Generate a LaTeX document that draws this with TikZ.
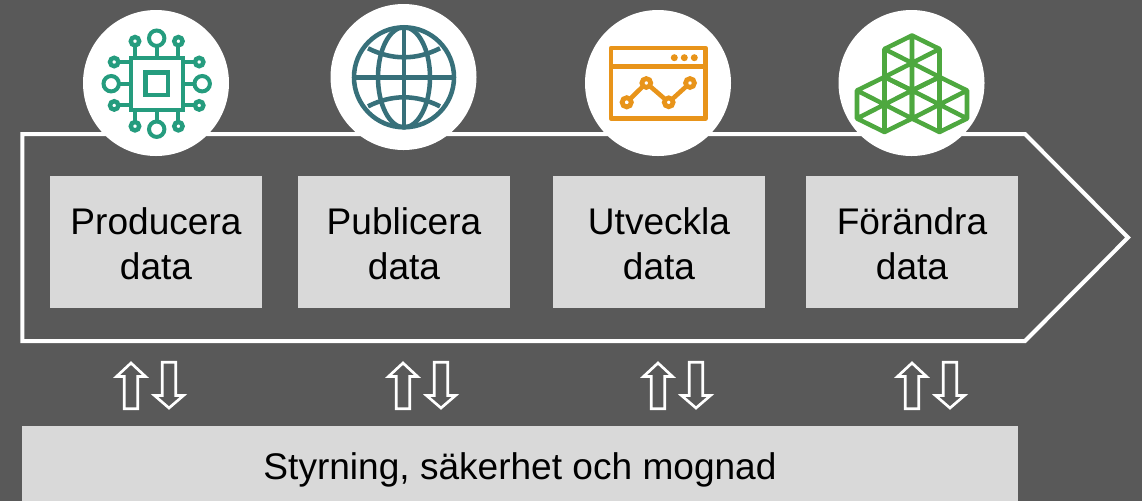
\documentclass[tikz,border=0pt]{standalone}
\usepackage{fontspec}
\setmainfont{Liberation Sans}
\definecolor{bgc}{HTML}{595959}
\definecolor{boxc}{HTML}{D9D9D9}
\definecolor{teal1}{HTML}{259C7E}
\definecolor{teal2}{HTML}{37707A}
\definecolor{orange1}{HTML}{E8941A}
\definecolor{green1}{HTML}{4EA83F}
\newcommand{\lowr}[1]{\raisebox{-1.5pt}[\height][\depth]{#1}}
\tikzset{
  stepbox/.style={fill=boxc,inner sep=0pt,minimum width=159pt,minimum height=99pt,align=center,font=\fontsize{27.8}{33.5}\selectfont,text=black},
  iconbg/.style={fill=white,circle,inner sep=0pt,minimum size=109.5pt},
  flow/.style={draw=white,line width=3pt,fill=none,miter limit=10},
  updown/.style={draw=white,line width=2pt,fill=none},
  pics/updn/.style={code={
    \draw[updown] (0,-22.5) -- (14.5,-9) -- (6.7,-9) -- (6.7,23.2) -- (-6.7,23.2) -- (-6.7,-9) -- (-14.5,-9) -- cycle;
    \draw[updown] (31.3,-23.2) -- (44.7,-23.2) -- (44.7,10) -- (52.5,10) -- (38,22.5) -- (23.5,10) -- (31.3,10) -- cycle;
  }},
  pics/hexa/.style={code={
    \draw[green1,line width=3.4pt,line join=round] (0,-27.5) -- (27.5,-14) -- (27.5,14) -- (0,27.5) -- (-27.5,14) -- (-27.5,-14) -- cycle
      (0,-27.5) -- (0,27.5) (27.5,-14) -- (-27.5,14) (27.5,14) -- (-27.5,-14);
  }}
}
\begin{document}
\begin{tikzpicture}[x=0.75pt,y=-0.75pt]
\useasboundingbox (0,0) rectangle (1142,501);
\fill[bgc] (0,0) rectangle (1142,501);
% flow outline
\draw[flow] (22.3,134) -- (1025,134) -- (1128,237.5) -- (1025,341) -- (22.3,341) -- cycle;
% process boxes
\node[stepbox] (b1) at (156,242) {\lowr{Producera}\\\lowr{data}};
\node[stepbox] (b2) at (404,242) {\lowr{Publicera}\\\lowr{data}};
\node[stepbox] (b3) at (659,242) {\lowr{Utveckla}\\\lowr{data}};
\node[stepbox] (b4) at (912,242) {\lowr{Förändra}\\\lowr{data}};
\fill[boxc] (22,426) rectangle (1018,501);
\node[inner sep=0pt,font=\fontsize{27.8}{30}\selectfont,text=black] (gov) at (520,470) {Styrning, säkerhet och mognad};
% circles
\node[iconbg] (c1) at (156,83) {};
\node[iconbg] (c2) at (403.5,77) {};
\node[iconbg] (c3) at (658,83) {};
\node[iconbg] (c4) at (911.5,83) {};
% arrows
\pic at (131,385.5) {updn};
\pic at (403,385.5) {updn};
\pic at (658,385.5) {updn};
\pic at (912,385.5) {updn};
% icon 1: chip
\begin{scope}[shift={(156.7,83.7)},draw=teal1,line width=3pt]
  \draw (-26,-26) rectangle (26,26);
  \draw[line width=3.4pt] (-11.3,-11.3) rectangle (11.3,11.3);
  \foreach \a in {0,90,180,270}{
    \begin{scope}[rotate=\a]
      \draw (0,-26) -- (0,-38);
      \draw (0,-45.5) circle[radius=7.7];
      \draw (-21.7,-26) -- (-21.7,-37);
      \draw (21.7,-26) -- (21.7,-37);
      \draw[line width=3.3pt] (-21.7,-42.5) circle[radius=4.2];
      \draw[line width=3.3pt] (21.7,-42.5) circle[radius=4.2];
    \end{scope}
  }
\end{scope}
% icon 2: globe
\begin{scope}[shift={(404,77.3)},draw=teal2,line width=3.4pt]
  \draw (0,0) circle[radius=50];
  \draw (0,0) ellipse[x radius=26,y radius=50];
  \draw (0,-50) -- (0,50) (-50,0) -- (50,0);
  \draw (-36,-29) .. controls (-12,-17) and (12,-17) .. (36,-29);
  \draw (-36,29) .. controls (-12,17) and (12,17) .. (36,29);
\end{scope}
% icon 3: chart window
\begin{scope}[draw=orange1,line width=3.4pt]
  \draw[line join=round] (611,48) rectangle (705.5,118.5);
  \draw (611,66.7) -- (705.5,66.7);
  \fill[orange1] (674.3,57.7) circle[radius=3.5] (684.3,57.7) circle[radius=3.5] (694.3,57.7) circle[radius=3.5];
  \draw (626.7,102.3) -- (646.3,83) -- (668.7,102.3) -- (690,83);
  \foreach \p/\r in {{(626.7,102.3)}/4.6,{(646.3,83)}/4.4,{(668.7,102.3)}/4.4,{(690,83)}/4.4}{
    \draw[line width=3.6pt,fill=white] \p circle[radius=\r];
  }
\end{scope}
% icon 4: cubes
\pic at (912,63) {hexa};
\pic at (884.5,104.5) {hexa};
\pic at (939.5,104.5) {hexa};
\end{tikzpicture}
\end{document}
